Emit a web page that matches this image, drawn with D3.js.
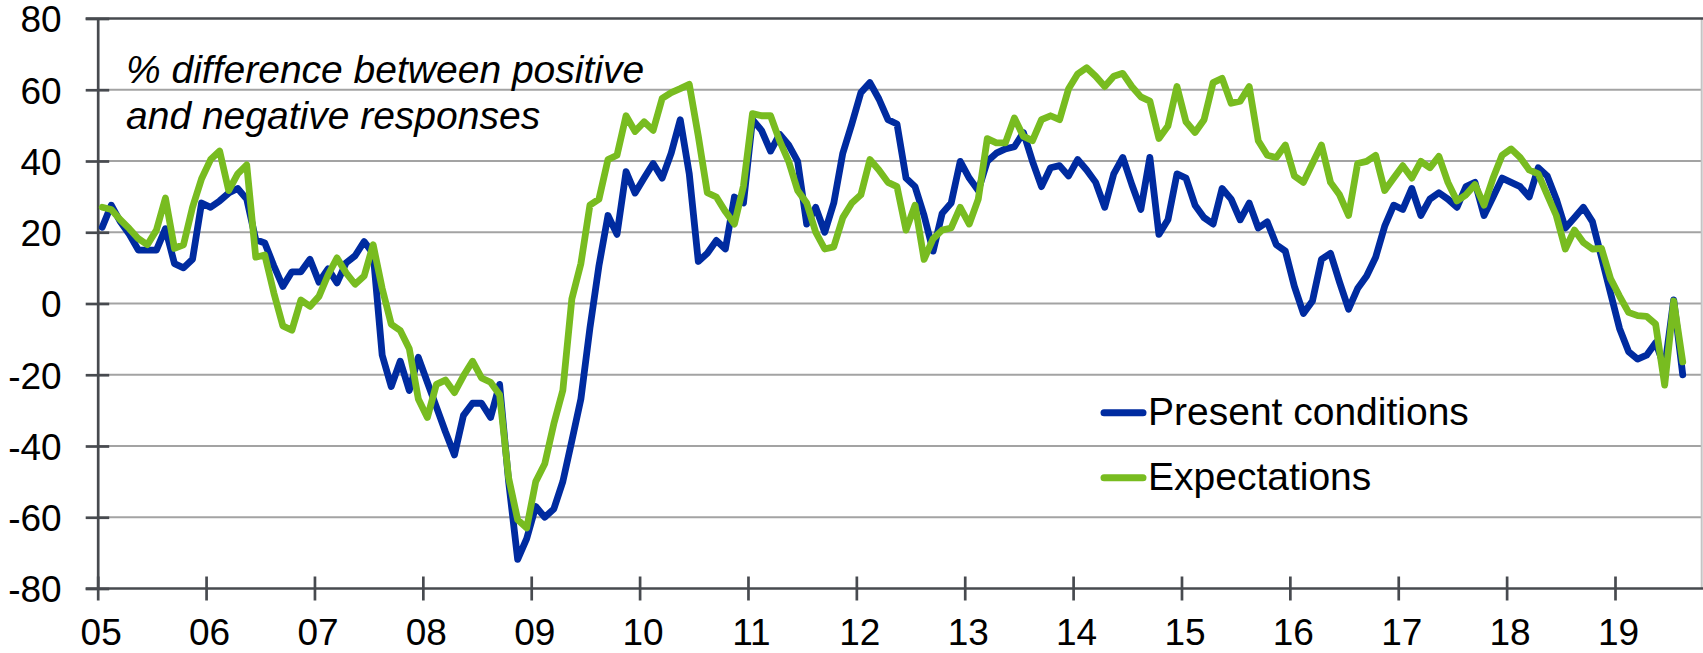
<!DOCTYPE html>
<html lang="en">
<head>
    <meta charset="UTF-8">
    <title>Present conditions vs expectations</title>
    <script src="https://cdn.jsdelivr.net/npm/d3@7"></script>
</head>
<body>

    <div class="marco"></div>

    <style>
        body, html {margin: 0; padding: 0; background: #fff;}
        .marco svg {display: block; font-family: "Liberation Sans", Arial, sans-serif;}
        .grid line {stroke: #a3a3a3; stroke-width: 2;}
        .eje path, .eje line {stroke: #474a4f; stroke-width: 2.7;}
        .eje text {font-size: 37px; fill: #000;}
        .serie {fill: none; stroke-width: 6.8; stroke-linejoin: round; stroke-linecap: round;}
    </style>

    <script>
        // monthly data, Jan 2005 - Aug 2019
        var yearLabels = ["05","06","07","08","09","10","11","12","13","14","15","16","17","18","19"];
        var seriesNames = ["Present conditions", "Expectations"];
        var seriesColors = ["#002ba0", "#78bc20"];

        var presentConditions = [
            21.4, 27.6, 23, 19.4, 15, 15, 15, 21, 11.2, 10, 12.4, 28.2,
            27, 28.8, 31, 32.3, 29.3, 17.9, 17, 10.6, 4.8, 8.9, 8.9, 12.4,
            6, 9.7, 5.8, 11.4, 13.4, 17.4, 14, -14.5, -23.3, -16.2, -24.4, -15.1,
            -22.1, -29, -36, -42.5, -31.4, -28, -28, -32, -22.7, -50, -71.8, -66,
            -57, -60, -57.7, -50, -38.5, -26.8, -6.9, 10.6, 24.7, 19.4, 37, 31,
            35.2, 39.3, 35.2, 42.2, 51.6, 36.4, 11.8, 14.1, 17.7, 15.3, 29.9, 28.2,
            51.6, 48.6, 42.8, 47.5, 44.5, 39.9, 22.3, 27, 20, 28.2, 42.2, 50.4,
            59.2, 62, 57.4, 51.6, 50.4, 35.2, 32.8, 24.7, 14.7, 25.3, 28.2, 39.9,
            35.2, 31.7, 39.9, 42.2, 43.4, 44, 48, 39.9, 32.8, 38.1, 38.7, 35.8,
            40.4, 37.5, 34, 27, 36.4, 41, 33.4, 26.4, 41, 19.4, 23.5, 36.4,
            35.2, 27.6, 24.1, 22.3, 32.3, 29.3, 23.5, 28.2, 21.2, 22.9, 16.5, 14.7,
            4.8, -2.8, 0.7, 12.4, 14.1, 6, -1.6, 4.2, 7.7, 13, 21.7, 27.6,
            26.4, 32.3, 24.7, 29.3, 31.1, 29.3, 27, 32.8, 34, 24.7, 29.9, 35.2,
            34, 32.8, 29.9, 38.1, 35.8, 29.3, 21.2, 24.1, 27, 23, 13, 3,
            -7, -13.5, -15.6, -14.5, -11, -18, 1, -20
        ];

        var expectations = [
            27, 26.4, 23.5, 21, 18.2, 16.5, 20.6, 29.6, 15.5, 16.5, 27, 35,
            40.4, 42.8, 31.7, 36.4, 38.9, 13, 13.6, 3, -6.3, -7.5, 1, -0.8,
            2, 8, 12.8, 8.6, 5.4, 7.7, 16.5, 4.2, -5.8, -7.6, -12.7, -26.8,
            -32, -22.7, -21.5, -25, -20.3, -16.2, -20.9, -22.1, -25.6, -49, -60.7, -63,
            -50, -45, -33.8, -24.4, 1.3, 11.2, 27.6, 29.3, 40.4, 41.6, 52.7, 48.3,
            51, 48.6, 57.6, 59.2, 60.3, 61.5, 47, 31.1, 29.9, 25.8, 22.3, 33,
            53.3, 52.7, 52.7, 45.7, 39.9, 31.7, 28.2, 20, 15.3, 15.9, 24.1, 28.2,
            30.5, 40.4, 37.5, 34, 32.8, 20.6, 27.6, 12.4, 18.2, 20.6, 21.2, 27,
            22.3, 29.3, 46.3, 45.1, 45.1, 52.1, 46.9, 45.7, 51.6, 52.7, 51.6, 60.3,
            64.4, 66.2, 63.8, 60.9, 63.8, 64.6, 60.9, 58, 56.8, 46.3, 49.8, 60.9,
            51, 48, 51.6, 62, 63.2, 56.2, 56.8, 60.9, 45.7, 41.6, 41, 44.5,
            35.8, 34, 39.3, 44.5, 34, 30.5, 24.7, 39.3, 39.9, 41.6, 31.7, 35.2,
            38.7, 35.2, 39.9, 38.1, 41.3, 34, 28.8, 30.5, 33.4, 27.6, 35.2, 41.6,
            43.4, 41, 37.5, 36.4, 30.5, 24.7, 15.3, 20.6, 17.1, 15.3, 15.5, 7,
            2.1, -2.5, -3.4, -3.6, -5.8, -22.9, 0.7, -16.4
        ];

        var yTicks = [80, 60, 40, 20, 0, -20, -40, -60, -80];
        var noteLines = ["% difference between positive", "and negative responses"];

        // tamaño del SVG y del area de dibujo
        var width = 1703,
            height = 653,
            plot = {left: 97.7, right: 1701.7, top: 18.5, bottom: 588.5};

        var svg = d3.select(".marco").append("svg")
            .attr("width", width)
            .attr("height", height);

        // escalas: meses desde ene-2005 (horizontal), % (vertical)
        var x = d3.scaleLinear().domain([0, 177.6]).range([plot.left, plot.right]),
            y = d3.scaleLinear().domain([-80, 80]).range([plot.bottom, plot.top]);

        // lineas de la rejilla
        svg.append("g")
            .attr("class", "grid")
            .selectAll("line")
            .data(yTicks.filter(d => d > -80 && d < 80))
            .enter().append("line")
            .attr("x1", plot.left).attr("x2", plot.right)
            .attr("y1", d => y(d)).attr("y2", d => y(d));

        // borde derecho y superior
        svg.append("line")
            .attr("x1", plot.right).attr("x2", plot.right)
            .attr("y1", y(80)).attr("y2", y(-80))
            .attr("stroke", "#c4c4c4").attr("stroke-width", 2);
        svg.append("line")
            .attr("x1", plot.left - 12).attr("x2", plot.right + 2)
            .attr("y1", y(80)).attr("y2", y(80))
            .attr("stroke", "#474a4f").attr("stroke-width", 2.7);

        // eje vertical (guion normal, no signo menos)
        var yAxis = svg.append("g")
            .attr("class", "eje")
            .attr("transform", `translate(${plot.left}, 0)`)
            .call(d3.axisLeft(y)
                .tickValues(yTicks)
                .tickFormat(d => String(d))
                .tickSizeInner(-11.5).tickSizeOuter(0).tickPadding(0));
        yAxis.selectAll(".tick line").attr("x1", -12).attr("x2", 11.5);
        yAxis.selectAll(".tick text")
            .attr("x", -36)
            .attr("dy", "0.36em");

        // eje horizontal (marcas entre años)
        var xAxis = svg.append("g")
            .attr("class", "eje")
            .attr("transform", `translate(0, ${plot.bottom})`)
            .call(d3.axisBottom(x)
                .tickValues(yearLabels.map((d, i) => i * 12))
                .tickFormat((d, i) => yearLabels[i])
                .tickSizeOuter(0));
        xAxis.select(".domain").attr("d", `M${plot.left - 12},0H${plot.right + 2}`);
        xAxis.selectAll(".tick line").attr("y1", -12).attr("y2", 12);
        xAxis.selectAll(".tick text")
            .attr("x", 3)
            .attr("y", 0)
            .attr("dy", "56px");

        // series
        var linea = d3.line()
            .x((d, i) => x(i + 0.5))
            .y(d => y(d));

        [presentConditions, expectations].forEach((serie, k) => {
            svg.append("path")
                .datum(serie)
                .attr("class", "serie")
                .attr("stroke", seriesColors[k])
                .attr("d", linea);
        });

        // nota en cursiva
        svg.append("text")
            .attr("x", 126)
            .attr("y", 83)
            .attr("font-size", "39px")
            .attr("font-style", "italic")
            .selectAll("tspan")
            .data(noteLines)
            .enter().append("tspan")
            .attr("x", 126)
            .attr("dy", (d, i) => i === 0 ? 0 : 46)
            .text(d => d);

        // leyenda
        var leyenda = svg.append("g").attr("transform", "translate(1101, 412.8)");
        seriesNames.forEach((nombre, k) => {
            var fila = leyenda.append("g").attr("transform", `translate(0, ${k * 65})`);
            fila.append("line")
                .attr("x1", 3).attr("x2", 42)
                .attr("stroke", seriesColors[k])
                .attr("stroke-width", 7)
                .attr("stroke-linecap", "round");
            fila.append("text")
                .attr("x", 47)
                .attr("y", 12.5)
                .attr("font-size", "39px")
                .text(nombre);
        });
    </script>
</body>
</html>
